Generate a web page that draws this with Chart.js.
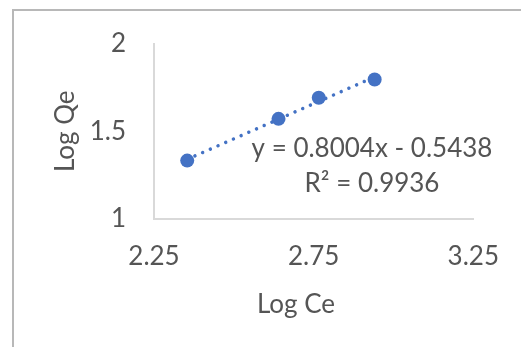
<!DOCTYPE html>
<html>
<head>
<meta charset="utf-8">
<script src="https://cdn.jsdelivr.net/npm/chart.js@4.4.0/dist/chart.umd.min.js"></script>
<style>
    html, body { margin: 0; padding: 0; background: #fff; overflow: hidden; }
    #wrap { position: relative; width: 521px; height: 347px; }
    #frame {
        position: absolute; left: 12px; top: 9px; width: 600px; height: 400px;
        border-left: 2px solid #b8b8b8; border-top: 2px solid #b8b8b8;
    }
    #chart { position: absolute; left: 0; top: 0; }
</style>
</head>
<body>
<div id="wrap">
    <div id="frame"></div>
    <canvas id="chart" width="521" height="347"></canvas>
</div>
<script>
/* Freundlich isotherm - Log Qe vs Log Ce */

const logCe = [2.354, 2.640, 2.766, 2.941];
const logQe = [1.333, 1.571, 1.691, 1.795];

// trendline as printed on the chart
const slope = 0.8004;
const intercept = -0.5438;
const rSquared = 0.9936;

const xTicks = [2.25, 2.75, 3.25];
const yTicks = [1, 1.5, 2];

const FONT = 'Lato, "Open Sans", sans-serif';
const SIZE = 26;
const TEXT = '#555555';
const BLUE = '#4472C4';

const points = logCe.map((x, i) => ({ x: x, y: logQe[i] }));
const xMin = Math.min(...logCe);
const xMax = Math.max(...logCe);
const trend = [
    { x: xMin, y: slope * xMin + intercept },
    { x: xMax, y: slope * xMax + intercept },
];

// equation label + x axis title
const labels = {
    id: 'labels',
    afterDraw(chart) {
        const c = chart.ctx;
        c.save();
        c.fillStyle = TEXT;
        c.font = SIZE + 'px ' + FONT;
        c.textAlign = 'center';
        c.textBaseline = 'middle';
        const sign = intercept < 0 ? ' - ' : ' + ';
        c.fillText('y = ' + slope.toFixed(4) + 'x' + sign + Math.abs(intercept).toFixed(4), 372, 149);
        c.fillText('R² = ' + rSquared.toFixed(4), 372, 184);
        c.fillText('Log Ce', 296, 305);
        c.restore();
    }
};

new Chart(document.getElementById('chart'), {
    type: 'scatter',
    data: {
        datasets: [{
            label: 'Log Qe',
            data: points,
            order: 0,
            pointRadius: 7,
            pointHoverRadius: 7,
            pointBackgroundColor: BLUE,
            pointBorderColor: BLUE,
            pointBorderWidth: 0,
        }, {
            type: 'line',
            label: 'Linear',
            data: trend,
            order: 1,
            borderColor: BLUE,
            borderWidth: 3.5,
            borderDash: [0.01, 8.4],
            borderCapStyle: 'round',
            pointRadius: 0,
            fill: false,
        }]
    },
    options: {
        responsive: false,
        animation: false,
        layout: { padding: { left: 0, right: 47, top: 42, bottom: 0 } },
        plugins: {
            legend: { display: false },
            tooltip: { enabled: false },
        },
        scales: {
            x: {
                type: 'linear',
                min: xTicks[0],
                max: xTicks[xTicks.length - 1],
                afterBuildTicks: (s) => { s.ticks = xTicks.map(v => ({ value: v })); },
                afterFit: (s) => { s.height = 128; },
                grid: { display: false, drawTicks: false },
                border: { display: true, color: '#d9d9d9', width: 2 },
                ticks: {
                    color: TEXT,
                    font: { size: SIZE, family: FONT },
                    padding: 22,
                    maxRotation: 0,
                    callback: (v) => v.toFixed(2),
                },
            },
            y: {
                type: 'linear',
                min: yTicks[0],
                max: yTicks[yTicks.length - 1],
                afterBuildTicks: (s) => { s.ticks = yTicks.map(v => ({ value: v })); },
                afterFit: (s) => { s.width = 154; },
                grid: { display: false, drawTicks: false },
                border: { display: true, color: '#d9d9d9', width: 2 },
                ticks: {
                    color: TEXT,
                    font: { size: SIZE, family: FONT },
                    padding: 28,
                    callback: (v) => String(v),
                },
                title: {
                    display: true,
                    text: 'Log Qe',
                    color: TEXT,
                    font: { size: SIZE, family: FONT },
                    padding: { top: 50, bottom: 0 },
                },
            },
        },
    },
    plugins: [labels],
});
</script>
</body>
</html>
